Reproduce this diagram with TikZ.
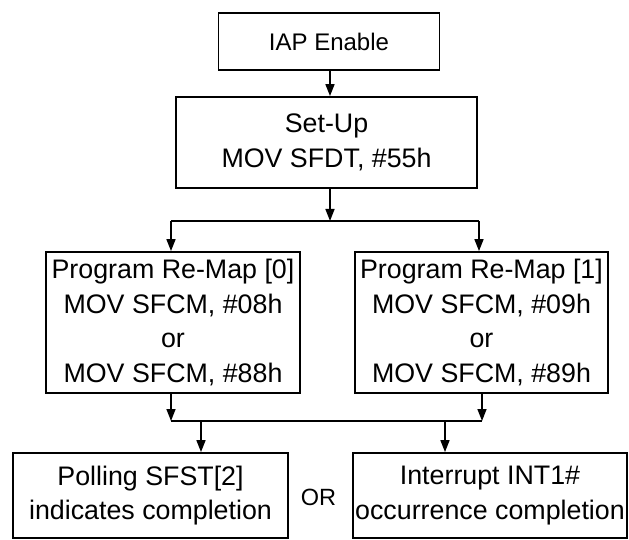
\documentclass[tikz,border=0pt]{standalone}
\usepackage{fontspec}
\setmainfont{Liberation Sans}
\usetikzlibrary{arrows.meta}
\begin{document}
\begin{tikzpicture}[x=1pt,y=-1pt,
  box/.style={draw,line width=1.8pt,inner sep=1pt,align=center,
    font=\fontsize{26.8}{34.5}\selectfont},
  conn/.style={line width=1.5pt},
  arr/.style={conn,-{Triangle[length=12pt,width=9pt]}}]
\useasboundingbox (0,0) rectangle (629,540);
\node[box,minimum width=221pt,minimum height=57pt,font=\fontsize{24}{30}\selectfont] (iap) at (329,41.5) {IAP Enable};
\node[box,minimum width=301pt,minimum height=91pt] (setup) at (326.5,142.5) {Set-Up\\MOV SFDT, \#55h};
\node[box,minimum width=254pt,minimum height=141pt] (pm0) at (173,322.5) {Program Re-Map [0]\\MOV SFCM, \#08h\\or\\MOV SFCM, \#88h};
\node[box,minimum width=253pt,minimum height=141pt] (pm1) at (481.5,322.5) {Program Re-Map [1]\\MOV SFCM, \#09h\\or\\MOV SFCM, \#89h};
\node[box,minimum width=275pt,minimum height=85pt] (poll) at (150.5,495.5) {Polling SFST[2]\\indicates completion};
\node[box,minimum width=274pt,minimum height=85pt] (intr) at (490,495.5) {Interrupt INT1\#\\occurrence completion};
\node[font=\fontsize{23.5}{28}\selectfont,inner sep=0pt] (or) at (318.5,497) {OR};
% junctions
\coordinate (j1) at (330,221);
\coordinate (j1l) at (171,221);
\coordinate (j1r) at (479,221);
\coordinate (j2l) at (171,421);
\coordinate (j2r) at (482,421);
\coordinate (d2l) at (201,421);
\coordinate (d2r) at (445,421);
\draw[arr] (iap.south -| j1) -- (setup.north -| j1);
\draw[arr] (setup.south -| j1) -- (j1);
\draw[conn] (j1l) -- (j1r);
\draw[arr] (j1l) -- (pm0.north -| j1l);
\draw[arr] (j1r) -- (pm1.north -| j1r);
\draw[arr] (pm0.south -| j2l) -- (j2l);
\draw[arr] (pm1.south -| j2r) -- (j2r);
\draw[conn] (j2l) -- (j2r);
\draw[arr] (d2l) -- (poll.north -| d2l);
\draw[arr] (d2r) -- (intr.north -| d2r);
\end{tikzpicture}
\end{document}
